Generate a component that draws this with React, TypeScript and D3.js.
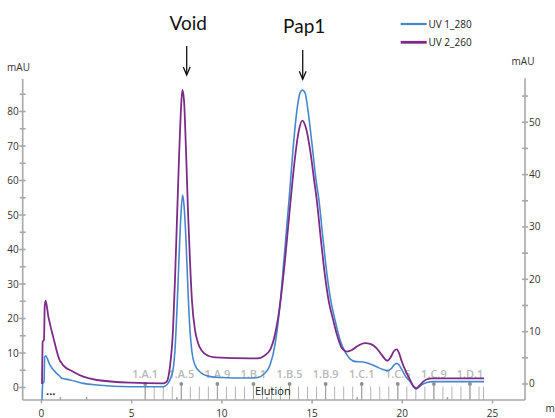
import React, { useEffect, useRef } from 'react';
import * as d3 from 'd3';

// UV 1_280 trace, read against the left axis (mAU)
const uv280Time = [0.03, 0.07, 0.14, 0.18, 0.23, 0.47, 0.84, 1.03, 1.12, 1.19, 1.58, 2.32, 3.06, 4.91, 6.75, 6.94,
    7.12, 7.29, 7.40, 7.51, 7.62, 7.73, 7.82, 7.90, 8.01, 8.12, 8.23, 8.34, 8.51, 8.79, 9.23, 9.89, 11.56, 12.0,
    12.33, 12.67, 12.94, 13.22, 13.44, 13.72, 13.94, 14.16, 14.33, 14.46, 14.61, 14.77, 15.0, 15.22, 15.38, 15.61,
    15.83, 16.05, 16.27, 16.55, 16.83, 17.1, 17.43, 17.82, 18.21, 18.58, 18.93, 19.17, 19.37, 19.54, 19.69, 19.82,
    19.98, 20.21, 20.43, 20.59, 20.76, 20.93, 21.15, 21.37, 21.65, 24.53];
const uv280Mau = [-3.6, 1.2, 1.7, 8.9, 9.2, 6.5, 4.1, 3.2, 2.7, 2.6, 2.2, 1.2, 0.72, 0.23, 0.23, 0.72,
    2.2, 5.1, 10.9, 22.5, 37.0, 50.0, 55.8, 52.9, 42.8, 28.3, 16.7, 10.3, 6.5, 4.5, 3.3, 2.9, 2.75, 2.9,
    3.9, 6.5, 12.3, 23.9, 37.0, 54.3, 68.8, 80.4, 85.4, 86.2, 85.4, 80.4, 70.3, 60.1, 54.3, 42.8,
    32.6, 24.8, 19.6, 13.8, 10.3, 8.3, 7.5, 7.4, 6.8, 6.0, 5.2, 4.9, 5.4, 6.5, 7.0, 6.5,
    5.1, 3.0, 1.7, 0.43, -0.43, 0.14, 1.0, 1.45, 1.7, 1.7];

// UV 2_260 trace, read against the right axis (mAU)
const uv260Time = [0.03, 0.07, 0.14, 0.18, 0.23, 0.38, 0.65, 1.03, 1.12, 1.19, 1.76, 2.32, 3.06, 4.91, 6.75, 6.94,
    7.12, 7.29, 7.40, 7.51, 7.62, 7.73, 7.81, 7.90, 8.01, 8.12, 8.23, 8.34, 8.51, 8.68, 8.90, 9.23, 9.62, 11.56,
    12.0, 12.33, 12.67, 12.94, 13.22, 13.5, 13.81, 14.05, 14.27, 14.46, 14.66, 14.89, 15.11, 15.26, 15.49, 15.71,
    15.93, 16.17, 16.38, 16.64, 16.92, 17.21, 17.54, 17.93, 18.26, 18.58, 18.87, 19.17, 19.37, 19.54, 19.69, 19.82,
    19.98, 20.21, 20.43, 20.59, 20.76, 20.93, 21.16, 21.37, 21.65, 24.53];
const uv260Mau = [0.0, 8.1, 8.4, 14.8, 15.9, 12.9, 9.0, 4.4, 4.0, 3.6, 2.35, 1.39, 0.76, 0.25, 0.13, 0.44,
    3.25, 10.3, 19.9, 31.3, 42.8, 52.3, 56.2, 54.2, 44.7, 33.2, 23.7, 16.0, 10.3, 7.8, 6.3, 5.4, 5.1, 4.9,
    4.9, 5.35, 6.5, 9.4, 15.1, 23.7, 35.1, 43.2, 48.5, 50.3, 48.9, 44.7, 39.0, 35.1, 27.5, 20.8,
    15.7, 12.2, 9.4, 6.9, 6.2, 6.5, 7.3, 7.8, 7.6, 6.8, 5.5, 4.45, 5.2, 6.3, 6.6, 5.9,
    4.2, 2.3, 0.76, -0.29, -0.82, -0.38, 0.44, 0.9, 1.09, 1.09];

const seriesNames = ['UV 1_280', 'UV 2_260'];

// fractions
const fractionLabels = ['1.A.1', '1.A.5', '1.A.9', '1.B.1', '1.B.5', '1.B.9', '1.C.1', '1.C.5', '1.C.9', '1.D.1'];
const fractionLabelTimes = [5.75, 7.75, 9.75, 11.75, 13.75, 15.75, 17.75, 19.75, 21.75, 23.75];
const fractionMarkTimes = [5.75, 6.25, 6.75, 7.25, 7.75, 8.25, 8.75, 9.25, 9.75, 10.25, 10.75, 11.25, 11.75,
    12.25, 12.75, 13.25, 13.75, 14.25, 14.75, 15.25, 15.75, 16.25, 16.75, 17.25, 17.75, 18.25, 18.75, 19.25,
    19.75, 20.25, 20.75, 21.25, 21.75, 22.25, 22.75, 23.25, 23.75, 24.25, 24.5];

// axes
const xTicks = [0, 5, 10, 15, 20, 25];
const xMinorTicks = [1.05, 2.5, 7.5, 12.5, 17.5, 22.5];
const leftTicks = [0, 10, 20, 30, 40, 50, 60, 70, 80];
const leftMinorTicks = [5, 15, 25, 35, 45, 55, 65, 75, 85];
const rightTicks = [0, 10, 20, 30, 40, 50];
const rightMinorTicks = [5, 15, 25, 35, 45, 55];

// peak annotations
const peakNames = ['Void', 'Pap1'];
const peakTimes = [8.05, 14.48];

const App = () => {
    const svgRef = useRef<SVGSVGElement>(null);

    useEffect(() => {
        const width = 555;
        const height = 418;
        const plotLeft = 22.7;
        const plotRight = 525;
        const plotTop = 79;
        const plotBottom = 400;

        const blue = '#4886cc';
        const purple = '#7a2c86';
        const axisColor = '#a8a8a8';
        const font = '"Open Sans", sans-serif';

        const svg = d3.select(svgRef.current);
        svg.selectAll('*').remove();
        svg.attr('width', width).attr('height', height);

        const x = d3.scaleLinear().domain([-1.04, 26.8]).range([plotLeft, plotRight]);
        const yLeft = d3.scaleLinear().domain([-3.62, 89.42]).range([plotBottom, plotTop]);
        const yRight = d3.scaleLinear().domain([-3.06, 58.26]).range([plotBottom, plotTop]);

        // fraction marks
        const frac = svg.append('g');
        fractionMarkTimes.forEach(t => {
            frac.append('line')
                .attr('x1', x(t)).attr('x2', x(t))
                .attr('y1', 386.5).attr('y2', plotBottom)
                .attr('stroke', '#b4b4b4').attr('stroke-width', 1);
        });
        fractionLabelTimes.forEach((t, i) => {
            frac.append('line')
                .attr('x1', x(t)).attr('x2', x(t))
                .attr('y1', 384).attr('y2', plotBottom)
                .attr('stroke', '#a0a0a0').attr('stroke-width', 1);
            frac.append('circle')
                .attr('cx', x(t)).attr('cy', 384).attr('r', 1.9)
                .attr('fill', '#909090');
            frac.append('text')
                .attr('x', x(t)).attr('y', 377.5)
                .attr('text-anchor', 'middle')
                .style('font-family', font).style('font-size', '11px').style('font-weight', 600)
                .style('fill', '#b8b8b8')
                .text(fractionLabels[i]);
        });
        svg.append('text')
            .attr('x', x(11.75) + 1.5).attr('y', 394.5)
            .style('font-family', font).style('font-size', '11px').style('fill', '#222')
            .text('Elution');
        svg.append('text')
            .attr('x', 46).attr('y', 395)
            .style('font-family', font).style('font-size', '11px').style('font-weight', 700).style('fill', '#222')
            .text('...');

        // axis lines
        const axes = svg.append('g').attr('stroke', axisColor).attr('stroke-width', 1.6);
        axes.append('line').attr('x1', plotLeft).attr('x2', plotLeft).attr('y1', plotTop).attr('y2', plotBottom);
        axes.append('line').attr('x1', plotRight).attr('x2', plotRight).attr('y1', plotTop - 0.7).attr('y2', plotBottom);
        axes.append('line').attr('x1', plotLeft).attr('x2', plotRight).attr('y1', plotBottom).attr('y2', plotBottom);

        const tickLabel = (g, px, py, anchor, txt) => g.append('text')
            .attr('x', px).attr('y', py).attr('text-anchor', anchor)
            .style('font-family', font).style('font-size', '10px').style('fill', '#333')
            .text(txt);

        leftTicks.forEach(v => {
            axes.append('line').attr('x1', plotLeft - 3.5).attr('x2', plotLeft + 3).attr('y1', yLeft(v)).attr('y2', yLeft(v));
            tickLabel(svg, plotLeft - 4, yLeft(v) + 3.5, 'end', v);
        });
        leftMinorTicks.forEach(v => {
            axes.append('line').attr('x1', plotLeft - 3).attr('x2', plotLeft + 3).attr('y1', yLeft(v)).attr('y2', yLeft(v));
        });
        rightTicks.forEach(v => {
            axes.append('line').attr('x1', plotRight - 3).attr('x2', plotRight + 3).attr('y1', yRight(v)).attr('y2', yRight(v));
            tickLabel(svg, plotRight + 4, yRight(v) + 3.5, 'start', v);
        });
        rightMinorTicks.forEach(v => {
            axes.append('line').attr('x1', plotRight - 3).attr('x2', plotRight + 3).attr('y1', yRight(v)).attr('y2', yRight(v));
        });
        xTicks.forEach(v => {
            axes.append('line').attr('x1', x(v)).attr('x2', x(v)).attr('y1', plotBottom).attr('y2', plotBottom + 3.5);
            tickLabel(svg, x(v), 416.5, 'middle', v);
        });
        xMinorTicks.forEach(v => {
            axes.append('line').attr('x1', x(v)).attr('x2', x(v)).attr('y1', plotBottom - 3).attr('y2', plotBottom);
        });

        tickLabel(svg, 18.5, 70.5, 'middle', 'mAU');
        tickLabel(svg, 523, 65, 'middle', 'mAU');
        // unit of the time axis runs off the right edge, as in the source
        tickLabel(svg, 545.5, 412, 'start', 'min');

        // traces
        svg.append('clipPath').attr('id', 'plot-clip')
            .append('rect')
            .attr('x', plotLeft).attr('y', plotTop)
            .attr('width', plotRight - plotLeft).attr('height', plotBottom - plotTop);

        const line280 = d3.line<number>()
            .x((d, i) => x(uv280Time[i]))
            .y(d => yLeft(d))
            .curve(d3.curveMonotoneX);
        const line260 = d3.line<number>()
            .x((d, i) => x(uv260Time[i]))
            .y(d => yRight(d))
            .curve(d3.curveMonotoneX);

        const traces = svg.append('g').attr('clip-path', 'url(#plot-clip)');
        traces.append('path')
            .attr('d', line280(uv280Mau))
            .attr('fill', 'none').attr('stroke', blue).attr('stroke-width', 1.6);
        traces.append('path')
            .attr('d', line260(uv260Mau))
            .attr('fill', 'none').attr('stroke', purple).attr('stroke-width', 1.8);

        // legend
        const legend = svg.append('g');
        [blue, purple].forEach((c, i) => {
            const ly = 24 + i * 18.3;
            legend.append('line')
                .attr('x1', 400.7).attr('x2', 426.7).attr('y1', ly).attr('y2', ly)
                .attr('stroke', c).attr('stroke-width', i === 0 ? 2.2 : 2.8);
            legend.append('text')
                .attr('x', 428.5).attr('y', ly + 3.5)
                .style('font-family', font).style('font-size', '10px').style('fill', '#222')
                .text(seriesNames[i]);
        });

        // peak labels and arrows
        peakNames.forEach((name, i) => {
            const px = x(peakTimes[i]);
            const arrowTop = i === 0 ? 46 : 50;
            const arrowTip = i === 0 ? 75 : 79.3;
            svg.append('text')
                .attr('x', px + 1.5).attr('y', i === 0 ? 29.5 : 32.5)
                .attr('text-anchor', 'middle')
                .style('font-family', 'Lato, sans-serif').style('font-size', '19px').style('fill', '#111')
                .text(name);
            svg.append('line')
                .attr('x1', px).attr('x2', px).attr('y1', arrowTop).attr('y2', arrowTip - 1)
                .attr('stroke', '#111').attr('stroke-width', 1.3);
            svg.append('path')
                .attr('d', `M${px - 3.4},${arrowTip - 8} L${px},${arrowTip} L${px + 3.4},${arrowTip - 8}`)
                .attr('fill', 'none').attr('stroke', '#111').attr('stroke-width', 1.3);
        });
    }, []);

    return (
        <svg ref={svgRef} style={{ position: 'absolute', left: 0, top: 0, display: 'block' }}></svg>
    );
};

export default App;
